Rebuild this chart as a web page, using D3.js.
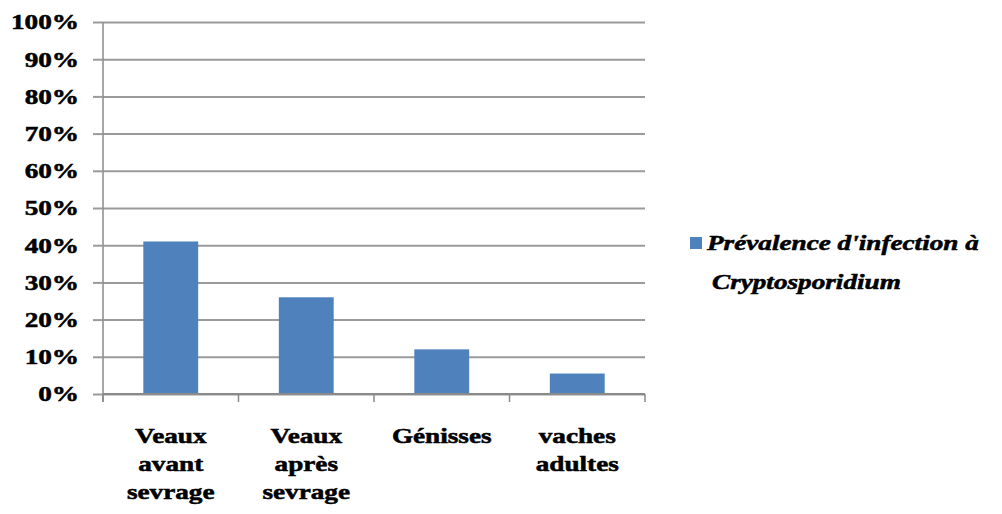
<!DOCTYPE html>
<html>
<head>
<meta charset="utf-8">
<script src="https://cdn.jsdelivr.net/npm/d3@7"></script>
<style>
  html, body { margin: 0; padding: 0; background: #fff; }
  svg { display: block; }
</style>
</head>
<body>
<svg id="chart" width="1002" height="514"></svg>
<script>
// Age groups and prevalence of Cryptosporidium infection
const categories = ["Veaux avant sevrage", "Veaux après sevrage", "Génisses", "vaches adultes"];
const categoryLines = [["Veaux", "avant", "sevrage"], ["Veaux", "après", "sevrage"], ["Génisses"], ["vaches", "adultes"]];
const prevalence = [0.41, 0.26, 0.12, 0.055];
const yTicks = [0, 0.1, 0.2, 0.3, 0.4, 0.5, 0.6, 0.7, 0.8, 0.9, 1.0];
const seriesName = ["Prévalence d'infection à", "Cryptosporidium"];

const svg = d3.select("#chart");
const X0 = 103, X1 = 645, Y0 = 394, Y1 = 22;
const SX = 1.36; // horizontal stretch of the lettering
const barColor = "#4F81BD";
const FONT = "'Liberation Serif', 'Times New Roman', Times, serif";

// common look of every label
function serifText(sel) {
  return sel.style("font-family", FONT).style("font-weight", "bold").style("font-size", "20px")
    .attr("fill", "#000").attr("stroke", "#000").attr("stroke-width", 0.5);
}

const x = d3.scaleBand().domain(categories).range([X0, X1]).paddingInner(0.595).paddingOuter(0.2975);
const y = d3.scaleLinear().domain([0, 1]).range([Y0, Y1]);

// horizontal gridlines
const grid = svg.append("g").attr("transform", `translate(${X0},0)`)
  .call(d3.axisRight(y).tickValues(yTicks).tickSize(X1 - X0).tickFormat(""));
grid.select(".domain").remove();
grid.selectAll(".tick line").attr("stroke", "#9a9a9a").attr("stroke-width", 2);

// left axis with tick marks and percentage labels
const yAxis = svg.append("g").attr("transform", `translate(${X0},0)`)
  .call(d3.axisLeft(y).tickValues(yTicks).tickSize(10).tickPadding(0).tickFormat(d3.format(".0%")));
yAxis.select(".domain").attr("stroke", "#8a8a8a").attr("stroke-width", 1.5)
  .attr("d", `M0,${Y1}V${Y0 + 8}`);
yAxis.selectAll(".tick line").attr("stroke", "#9a9a9a").attr("stroke-width", 2);
yAxis.selectAll(".tick text")
  .call(serifText)
  .attr("x", 0).attr("dy", "0.34em")
  .attr("transform", `translate(-24,0) scale(${SX},1)`);

// bars
svg.append("g").selectAll("rect").data(categories).join("rect")
  .attr("x", d => x(d))
  .attr("width", x.bandwidth())
  .attr("y", (d, i) => y(prevalence[i]))
  .attr("height", (d, i) => y(0) - y(prevalence[i]))
  .attr("fill", barColor);

// category axis: baseline and boundary ticks
const xAxis = svg.append("g");
xAxis.append("line").attr("x1", X0).attr("x2", X1).attr("y1", Y0).attr("y2", Y0)
  .attr("stroke", "#8a8a8a").attr("stroke-width", 2);
xAxis.selectAll("line.tk").data(d3.range(categories.length + 1)).join("line")
  .attr("class", "tk")
  .attr("x1", i => x.range()[0] + i * x.step()).attr("x2", i => x.range()[0] + i * x.step())
  .attr("y1", Y0).attr("y2", Y0 + 8)
  .attr("stroke", "#8a8a8a").attr("stroke-width", 1.5);

// category labels
const lab = svg.append("g").selectAll("g").data(categories).join("g")
  .attr("transform", d => `translate(${x(d) + x.bandwidth() / 2},0)`);
lab.selectAll("text").data((d, i) => categoryLines[i]).join("text")
  .call(serifText)
  .attr("text-anchor", "middle")
  .attr("transform", (t, j) => `translate(0,${443 + j * 28}) scale(${SX},1)`)
  .text(t => t);

// legend
const leg = svg.append("g");
leg.append("rect").attr("x", 690).attr("y", 237).attr("width", 12).attr("height", 12).attr("fill", barColor);
leg.selectAll("text").data(seriesName).join("text")
  .call(serifText)
  .style("font-style", "italic")
  .attr("transform", (t, j) => `translate(${j === 0 ? 707 : 712},${250 + j * 39}) scale(${SX},1)`)
  .text(t => t);
</script>
</body>
</html>
